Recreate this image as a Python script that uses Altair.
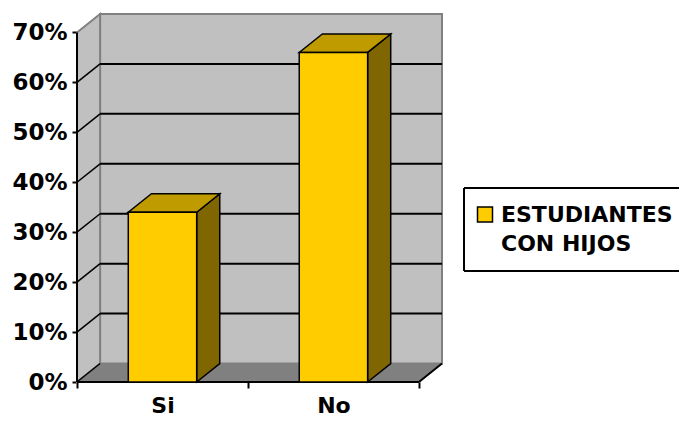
import altair as alt
import pandas as pd

# ---- data ----
categories = ["Si", "No"]
values = [34, 66]                      # percent
series_name = "ESTUDIANTES CON HIJOS"
y_ticks = [0, 10, 20, 30, 40, 50, 60, 70]

# ---- 3D styling parameters ----
Y_MAX = 70
DX = 0.135      # depth offset along x (category units)
DY = 3.7        # depth offset along y (% units)
BAR_LO, BAR_HI = 0.3, 0.7
FONT = "DejaVu Sans"
FRONT, TOP, SIDE = "#FFCC00", "#C09B00", "#806600"

n = len(categories)
x_scale = alt.Scale(domain=[0, n + DX], nice=False, zero=False)
y_scale = alt.Scale(domain=[0, Y_MAX + DY], nice=False, zero=False)

x_tick_vals = []
for i in range(n + 1):
    x_tick_vals.append(i)
    if i < n:
        x_tick_vals.append(i + 0.5)
label_expr = "".join(
    f"datum.value == {i + 0.5} ? '{c}' : " for i, c in enumerate(categories)
) + "''"

x_axis = alt.Axis(
    values=x_tick_vals, title=None, domain=False, grid=False,
    tickColor="black", tickWidth=2, tickSize=6,
    tickOpacity={"condition": {"test": "datum.value % 1 != 0", "value": 0}, "value": 1},
    labelExpr=label_expr, labelFont=FONT, labelFontSize=22, labelFontWeight="bold",
    labelColor="black", labelPadding=7, labelOverlap=False,
)
y_axis = alt.Axis(
    values=y_ticks, title=None, domain=False, grid=False,
    tickColor="black", tickWidth=2, tickSize=5,
    labelExpr="datum.value + '%'", labelFont=FONT, labelFontSize=23,
    labelFontWeight="bold", labelColor="black", labelPadding=5,
)


def X(f="x"):
    return alt.X(f"{f}:Q", scale=x_scale, axis=x_axis)


def Y(f="y"):
    return alt.Y(f"{f}:Q", scale=y_scale, axis=y_axis)


# back wall
back_df = pd.DataFrame([{"x": DX, "x2": n + DX, "y": DY, "y2": Y_MAX + DY}])
back = alt.Chart(back_df).mark_rect(fill="#C0C0C0", stroke="#808080", strokeWidth=2).encode(
    x=X(), x2="x2:Q", y=Y(), y2="y2:Q")

# left wall
left_df = pd.DataFrame({"x": [0, DX], "y": [0, DY], "y2": [Y_MAX, Y_MAX + DY]})
left = alt.Chart(left_df).mark_area(orient="vertical", fill="#C0C0C0", stroke="#808080",
                                    strokeWidth=2, opacity=1).encode(x=X(), y=Y(), y2="y2:Q")

# floor
floor_df = pd.DataFrame({"y": [0, DY], "x": [0, DX], "x2": [n, n + DX]})
floor = alt.Chart(floor_df).mark_area(orient="horizontal", fill="#808080", stroke="#808080",
                                      strokeWidth=1, opacity=1).encode(y=Y(), x=X(), x2="x2:Q")

# gridlines on the back wall
grid_df = pd.DataFrame({"y": [t + DY for t in y_ticks if 0 < t < Y_MAX],
                        "x": DX, "x2": n + DX})
grid = alt.Chart(grid_df).mark_rule(color="black", strokeWidth=2).encode(
    x=X(), x2="x2:Q", y=Y())

# gridlines on the left wall (diagonals)
diag_df = pd.DataFrame({"y": [t for t in y_ticks if t < Y_MAX],
                        "y2": [t + DY for t in y_ticks if t < Y_MAX],
                        "x": 0.0, "x2": DX})
diag = alt.Chart(diag_df).mark_rule(color="black", strokeWidth=1.5).encode(
    x=X(), x2="x2:Q", y=Y(), y2="y2:Q")

# front axis lines
edges_df = pd.DataFrame([
    {"x": 0, "x2": 0, "y": 0, "y2": Y_MAX},          # y axis
    {"x": 0, "x2": n, "y": 0, "y2": 0},              # x axis (floor front edge)
    {"x": n, "x2": n + DX, "y": 0, "y2": DY},        # floor right edge
])
edges = alt.Chart(edges_df).mark_rule(color="black", strokeWidth=2).encode(
    x=X(), x2="x2:Q", y=Y(), y2="y2:Q")

# bars
front_rows, side_rows, top_rows = [], [], []
for i, (c, v) in enumerate(zip(categories, values)):
    front_rows.append({"cat": c, "series": series_name, "x": i + BAR_LO, "x2": i + BAR_HI,
                       "y": 0, "y2": v})
    side_rows.append({"cat": c, "x": i + BAR_HI, "y": 0, "y2": v})
    side_rows.append({"cat": c, "x": i + BAR_HI + DX, "y": DY, "y2": v + DY})
    top_rows.append({"cat": c, "y": v, "x": i + BAR_LO, "x2": i + BAR_HI})
    top_rows.append({"cat": c, "y": v + DY, "x": i + BAR_LO + DX, "x2": i + BAR_HI + DX})

side = alt.Chart(pd.DataFrame(side_rows)).mark_area(
    orient="vertical", fill=SIDE, stroke="black", strokeWidth=1.5, opacity=1,
    strokeJoin="miter").encode(x=X(), y=Y(), y2="y2:Q", detail="cat:N")
top = alt.Chart(pd.DataFrame(top_rows)).mark_area(
    orient="horizontal", fill=TOP, stroke="black", strokeWidth=1.5, opacity=1,
    strokeJoin="miter").encode(y=Y(), x=X(), x2="x2:Q", detail="cat:N")
front = alt.Chart(pd.DataFrame(front_rows)).mark_rect(
    fill=FRONT, stroke="black", strokeWidth=1.5, opacity=1).encode(
    x=X(), x2="x2:Q", y=Y(), y2="y2:Q", tooltip=["series:N", "cat:N", "y2:Q"])

# legend (boxed key to the right of the plot; it runs past the right edge)
legend_df = pd.DataFrame([{"series": series_name,
                           "label": series_name.replace(" ", "\n", 1)}])
LX0, LX1, LY0, LY1 = 387, 720, 174, 257
leg_box = alt.Chart(legend_df).mark_rect(fill="white", strokeWidth=0).encode(
    x=alt.value(LX0), x2=alt.value(LX1), y=alt.value(LY0), y2=alt.value(LY1))
leg_top = alt.Chart(legend_df).mark_rule(color="black", strokeWidth=2).encode(
    x=alt.value(LX0), x2=alt.value(LX1), y=alt.value(LY0))
leg_bot = alt.Chart(legend_df).mark_rule(color="black", strokeWidth=2).encode(
    x=alt.value(LX0), x2=alt.value(LX1), y=alt.value(LY1))
leg_left = alt.Chart(legend_df).mark_rule(color="black", strokeWidth=2).encode(
    x=alt.value(LX0), y=alt.value(LY0), y2=alt.value(LY1))
leg_sym = alt.Chart(legend_df).mark_square(
    size=225, fill=FRONT, stroke="black", strokeWidth=1.5, opacity=1).encode(
    x=alt.value(408), y=alt.value(200.5))
leg_txt = alt.Chart(legend_df).mark_text(
    align="left", baseline="alphabetic", font=FONT, fontSize=22, fontWeight="bold",
    color="black", lineBreak="\n", lineHeight=29).encode(
    x=alt.value(424), y=alt.value(208), text="label:N")

chart = alt.layer(back, left, floor, grid, diag, edges, side, top, front,
                  leg_box, leg_top, leg_bot, leg_left, leg_sym, leg_txt).properties(
    width=365, height=368,
    autosize=alt.AutoSizeParams(type="none"),
    padding={"left": 69, "top": 6, "right": 237, "bottom": 36},
    background="white",
).configure_view(stroke=None)

chart.save("out.html", embed_options={"renderer": "svg", "actions": False})
